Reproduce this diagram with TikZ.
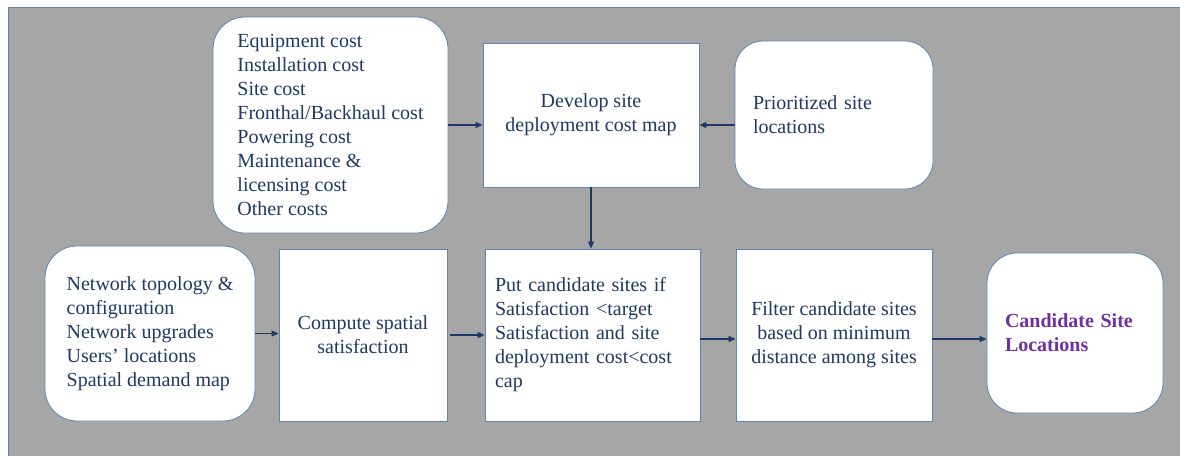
\documentclass[tikz,border=0pt]{standalone}
\usepackage{fontspec}
\setmainfont{Liberation Serif}
\newfontfamily\tnr{Liberation Serif}
\usetikzlibrary{arrows.meta}
\definecolor{bg}{HTML}{A6A6A6}
\definecolor{frame}{HTML}{5B86B5}
\definecolor{navy}{HTML}{1F3864}
\definecolor{purp}{HTML}{7030A0}
\begin{document}
\begin{tikzpicture}[x=1pt,y=-1pt,
  box/.style={draw=frame, line width=0.8pt, fill=white, inner sep=0pt, text=navy, font=\tnr\fontsize{20}{24}\selectfont},
  rbox/.style={box, rounded corners=32pt},
  conn/.style={draw=navy, line width=1.1pt, -{Triangle[length=7pt,width=6pt]}}]
\useasboundingbox (0,0) rectangle (1180,455);
\fill[white] (0,0) rectangle (1180,455);
\draw[fill=bg, draw=frame, line width=0.8pt] (8,7) rectangle (1186,461);

\node[rbox, minimum width=235pt, minimum height=216pt, align=left] (cost) at (330.5,125)
  {Equipment cost\\Installation cost\\Site cost\\Fronthal/Backhaul cost\\Powering cost\\Maintenance \&\\licensing cost\\Other costs};
\node[box, minimum width=216pt, minimum height=144pt, align=center] (dev) at (591,115)
  {Develop site\\deployment cost map};
\node[rbox, rounded corners=28pt, minimum width=198pt, minimum height=148pt, text width=162pt, align=left] (prio) at (834,115)
  {Prioritized site\\locations};
\node[rbox, minimum width=210pt, minimum height=175pt, align=left] (net) at (150,333.5)
  {Network topology \&\\configuration\\Network upgrades\\Users’ locations\\Spatial demand map};
\node[box, minimum width=168pt, minimum height=172pt, align=center] (comp) at (363,335)
  {Compute spatial\\satisfaction};
\node[box, minimum width=215pt, minimum height=172pt, text width=195pt, align=left] (put) at (592.5,335)
  {Put candidate sites if\\Satisfaction <target\\Satisfaction and site\\deployment cost<cost\\cap};
\node[box, minimum width=196pt, minimum height=172pt, align=center] (filt) at (834,335)
  {Filter candidate sites\\based on minimum\\distance among sites};
\node[rbox, rounded corners=30pt, minimum width=176pt, minimum height=160pt, text width=140pt, align=left, text=purp, font={\tnr\fontsize{20}{24}\selectfont\bfseries}] (cand) at (1075,333)
  {Candidate Site\\Locations};

\draw[conn] (cost.east) -- ([yshift=-10pt]dev.west);
\draw[conn] ([yshift=-10pt]prio.west) -- ([yshift=-10pt]dev.east);
\draw[conn] (dev.south) -- (dev.south |- put.north);
\draw[conn] (net.east) -- (net.east -| comp.west);
\draw[conn] ([xshift=3pt]comp.east) -- (comp.east -| put.west);
\draw[conn] ([yshift=-4pt]put.east) -- ([yshift=-4pt]filt.west);
\draw[conn] ([yshift=-4pt]filt.east) -- ([yshift=-6pt]cand.west);
\end{tikzpicture}
\end{document}
